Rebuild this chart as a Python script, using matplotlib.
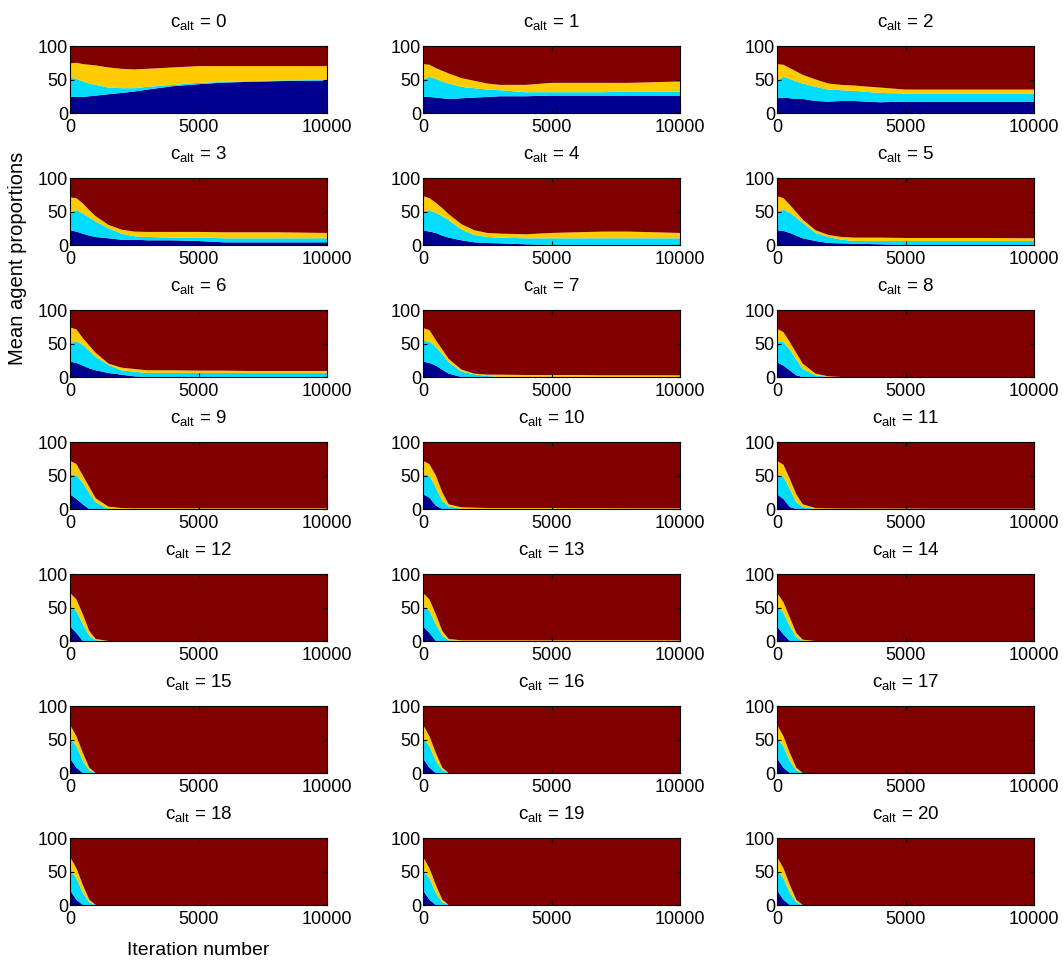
import numpy as np
import matplotlib
matplotlib.use("Agg")
import matplotlib.pyplot as plt

plt.rcParams["font.family"] = ["Liberation Sans", "DejaVu Sans"]
plt.rcParams["mathtext.fontset"] = "custom"
plt.rcParams["mathtext.rm"] = "Liberation Sans"
plt.rcParams["mathtext.it"] = "Liberation Sans"
plt.rcParams["mathtext.default"] = "regular"

iters = [0, 250, 500, 750, 1000, 1500, 2000, 2500, 3000, 4000, 5000, 6000, 7000, 8000, 10000]
c_alt = list(range(21))

# cumulative top of each band (percent), one row per c_alt
blue_top = [
    [24, 24, 24, 25, 26, 28, 30, 32, 35, 40, 43, 45.5, 46.5, 47.5, 48.5],
    [24, 24, 23, 22, 21, 22, 23, 24, 25, 25, 26, 26, 26, 26, 26],
    [22, 23, 22, 21, 21, 18, 17, 18, 18, 16, 17, 17, 17, 17, 17],
    [22, 20, 17, 14, 12, 10, 8, 8, 7, 7, 6, 4, 4, 4, 4],
    [22, 20, 18, 14, 11, 7, 4, 3, 2.5, 1, 0, 0, 0, 0, 0],
    [22, 21, 18, 14, 10, 6, 3, 2.5, 2, 1, 0, 0, 0, 0, 0],
    [23, 21, 17, 13, 10, 6, 3.5, 1, 0, 0, 0, 0, 0, 0, 0],
    [23, 21, 17, 11, 5, 0, 0, 0, 0, 0, 0, 0, 0, 0, 0],
    [22, 17, 10, 2.5, 0, 0, 0, 0, 0, 0, 0, 0, 0, 0, 0],
    [22, 15, 7, 0, 0, 0, 0, 0, 0, 0, 0, 0, 0, 0, 0],
    [22, 17, 5, 0, 0, 0, 0, 0, 0, 0, 0, 0, 0, 0, 0],
    [22, 15, 3, 0, 0, 0, 0, 0, 0, 0, 0, 0, 0, 0, 0],
    [22, 12, 0, 0, 0, 0, 0, 0, 0, 0, 0, 0, 0, 0, 0],
    [22, 12, 0, 0, 0, 0, 0, 0, 0, 0, 0, 0, 0, 0, 0],
    [22, 10, 0, 0, 0, 0, 0, 0, 0, 0, 0, 0, 0, 0, 0],
    [22, 8, 0, 0, 0, 0, 0, 0, 0, 0, 0, 0, 0, 0, 0],
    [22, 8, 0, 0, 0, 0, 0, 0, 0, 0, 0, 0, 0, 0, 0],
    [22, 8, 0, 0, 0, 0, 0, 0, 0, 0, 0, 0, 0, 0, 0],
    [22, 8, 0, 0, 0, 0, 0, 0, 0, 0, 0, 0, 0, 0, 0],
    [22, 8, 0, 0, 0, 0, 0, 0, 0, 0, 0, 0, 0, 0, 0],
    [22, 8, 0, 0, 0, 0, 0, 0, 0, 0, 0, 0, 0, 0, 0],
]
cyan_top = [
    [53, 51, 47, 44, 42, 38, 37, 37, 39, 42, 45, 46.5, 47.5, 48.5, 49.5],
    [50, 54, 51, 47, 44, 39, 37, 35, 34, 31, 31, 31, 31, 32, 32],
    [48, 54, 51, 47, 44, 39, 35, 34, 33, 30, 29, 29, 29, 29, 29],
    [48, 52, 47, 41, 35, 25, 17, 13, 12, 11, 11, 10, 10, 10, 10],
    [50, 52, 48, 43, 37, 23, 15, 12, 11, 10, 10, 10, 10, 10, 10],
    [50, 53, 48, 41, 33, 18, 12, 8, 6, 6, 6, 6, 6, 6, 6],
    [51, 53, 48, 39, 30, 18, 10, 8, 6, 6, 6, 6, 6, 6, 6],
    [54, 53, 45, 34, 22, 8, 4, 1.5, 0, 0, 0, 0, 0, 0, 0],
    [53, 52, 41, 26, 12, 2.5, 0, 0, 0, 0, 0, 0, 0, 0, 0],
    [52, 50, 39, 24, 10, 0, 0, 0, 0, 0, 0, 0, 0, 0, 0],
    [52, 50, 32, 12, 4, 0, 0, 0, 0, 0, 0, 0, 0, 0, 0],
    [52, 48, 30, 10, 3, 0, 0, 0, 0, 0, 0, 0, 0, 0, 0],
    [52, 45, 25, 8, 1, 0, 0, 0, 0, 0, 0, 0, 0, 0, 0],
    [52, 45, 25, 8, 1, 0, 0, 0, 0, 0, 0, 0, 0, 0, 0],
    [52, 42, 22, 6, 0, 0, 0, 0, 0, 0, 0, 0, 0, 0, 0],
    [52, 40, 18, 4, 0, 0, 0, 0, 0, 0, 0, 0, 0, 0, 0],
    [52, 40, 18, 4, 0, 0, 0, 0, 0, 0, 0, 0, 0, 0, 0],
    [52, 40, 18, 4, 0, 0, 0, 0, 0, 0, 0, 0, 0, 0, 0],
    [52, 40, 18, 4, 0, 0, 0, 0, 0, 0, 0, 0, 0, 0, 0],
    [52, 40, 18, 4, 0, 0, 0, 0, 0, 0, 0, 0, 0, 0, 0],
    [52, 40, 18, 4, 0, 0, 0, 0, 0, 0, 0, 0, 0, 0, 0],
]
yellow_top = [
    [74, 75, 73, 72, 71, 68, 66, 65, 66, 68, 70, 70, 70, 70, 70],
    [73, 72, 67, 63, 59, 52, 48, 44, 42, 42, 45, 45, 45, 45, 47],
    [73, 72, 67, 62, 57, 50, 44, 42, 41, 38, 35, 35, 35, 35, 35],
    [71, 70, 62, 52, 43, 30, 23, 20, 19.5, 19.5, 19.5, 19, 19, 19, 18],
    [73, 70, 63, 55, 46, 31, 22, 18, 17, 16, 18, 19, 20, 20, 18],
    [73, 70, 60, 49, 38, 22, 15, 12, 11, 11, 10.5, 10.5, 10.5, 10.5, 10],
    [74, 71, 58, 47, 36, 20, 14, 12, 10, 10, 9.5, 9.5, 9, 9, 9],
    [73, 70, 55, 41, 27, 11, 5, 3.5, 3.5, 3, 3, 3, 2.5, 2.5, 2.5],
    [72, 67, 52, 36, 20, 5, 1, 0, 0, 0, 0, 0, 0, 0, 0],
    [72, 67, 50, 33, 16, 3.5, 1.5, 1.2, 1.2, 1.2, 1, 1, 1, 1, 1],
    [72, 67, 50, 25, 7, 2.5, 2, 1.5, 1.5, 1.5, 1.5, 1.2, 1.2, 1, 1],
    [72, 66, 45, 22, 7, 1.5, 1, 0.8, 0.8, 0.8, 0.8, 0.5, 0.5, 0.5, 0.5],
    [72, 62, 40, 15, 3, 0, 0, 0, 0, 0, 0, 0, 0, 0, 0],
    [72, 62, 40, 15, 3, 1, 1, 1, 1, 1, 1, 1, 1, 1, 1],
    [72, 58, 35, 12, 2, 0, 0, 0, 0, 0, 0, 0, 0, 0, 0],
    [72, 55, 30, 8, 0, 0, 0, 0, 0, 0, 0, 0, 0, 0, 0],
    [72, 55, 30, 8, 0, 0, 0, 0, 0, 0, 0, 0, 0, 0, 0],
    [72, 55, 30, 8, 0, 0, 0, 0, 0, 0, 0, 0, 0, 0, 0],
    [72, 55, 30, 8, 0, 0, 0, 0, 0, 0, 0, 0, 0, 0, 0],
    [72, 55, 30, 8, 0, 0, 0, 0, 0, 0, 0, 0, 0, 0, 0],
    [72, 55, 30, 8, 0, 0, 0, 0, 0, 0, 0, 0, 0, 0, 0],
]

colors = ["#00008F", "#00DDFF", "#FFCC00", "#800000"]

W, H = 1063, 963
fig = plt.figure(figsize=(W / 100, H / 100), dpi=100)

col_left = [70, 423, 777]
ax_w, ax_h = 257, 67
row_top0, row_step = 46, 132

for k in c_alt:
    r, c = divmod(k, 3)
    top = row_top0 + r * row_step
    ax = fig.add_axes([col_left[c] / W, 1 - (top + ax_h) / H, ax_w / W, ax_h / H])
    b = np.array(blue_top[k], dtype=float)
    cy = np.array(cyan_top[k], dtype=float)
    y = np.array(yellow_top[k], dtype=float)
    layers = [b, cy - b, y - cy, 100 - y]
    ax.stackplot(iters, layers, colors=colors, linewidth=0)
    ax.set_xlim(0, 10000)
    ax.set_ylim(0, 100)
    ax.set_xticks([0, 5000, 10000])
    ax.set_yticks([0, 50, 100])
    ax.tick_params(direction="in", length=3, labelsize=13, top=True, right=True)
    ax.tick_params(axis="x", pad=4.5)
    ax.tick_params(axis="y", pad=1.5)
    for sp in ax.spines.values():
        sp.set_linewidth(0.8)
    ax.set_title(f"$c_{{alt}}$ = {k}", fontsize=13.5, pad=14)

fig.text(18 / W, 1 - 258 / H, "Mean agent proportions", rotation=90,
         ha="center", va="center", fontsize=14.5)
fig.text(198 / W, 1 - 950 / H, "Iteration number", ha="center", va="center", fontsize=14)

fig.savefig("out.png", dpi=100)
